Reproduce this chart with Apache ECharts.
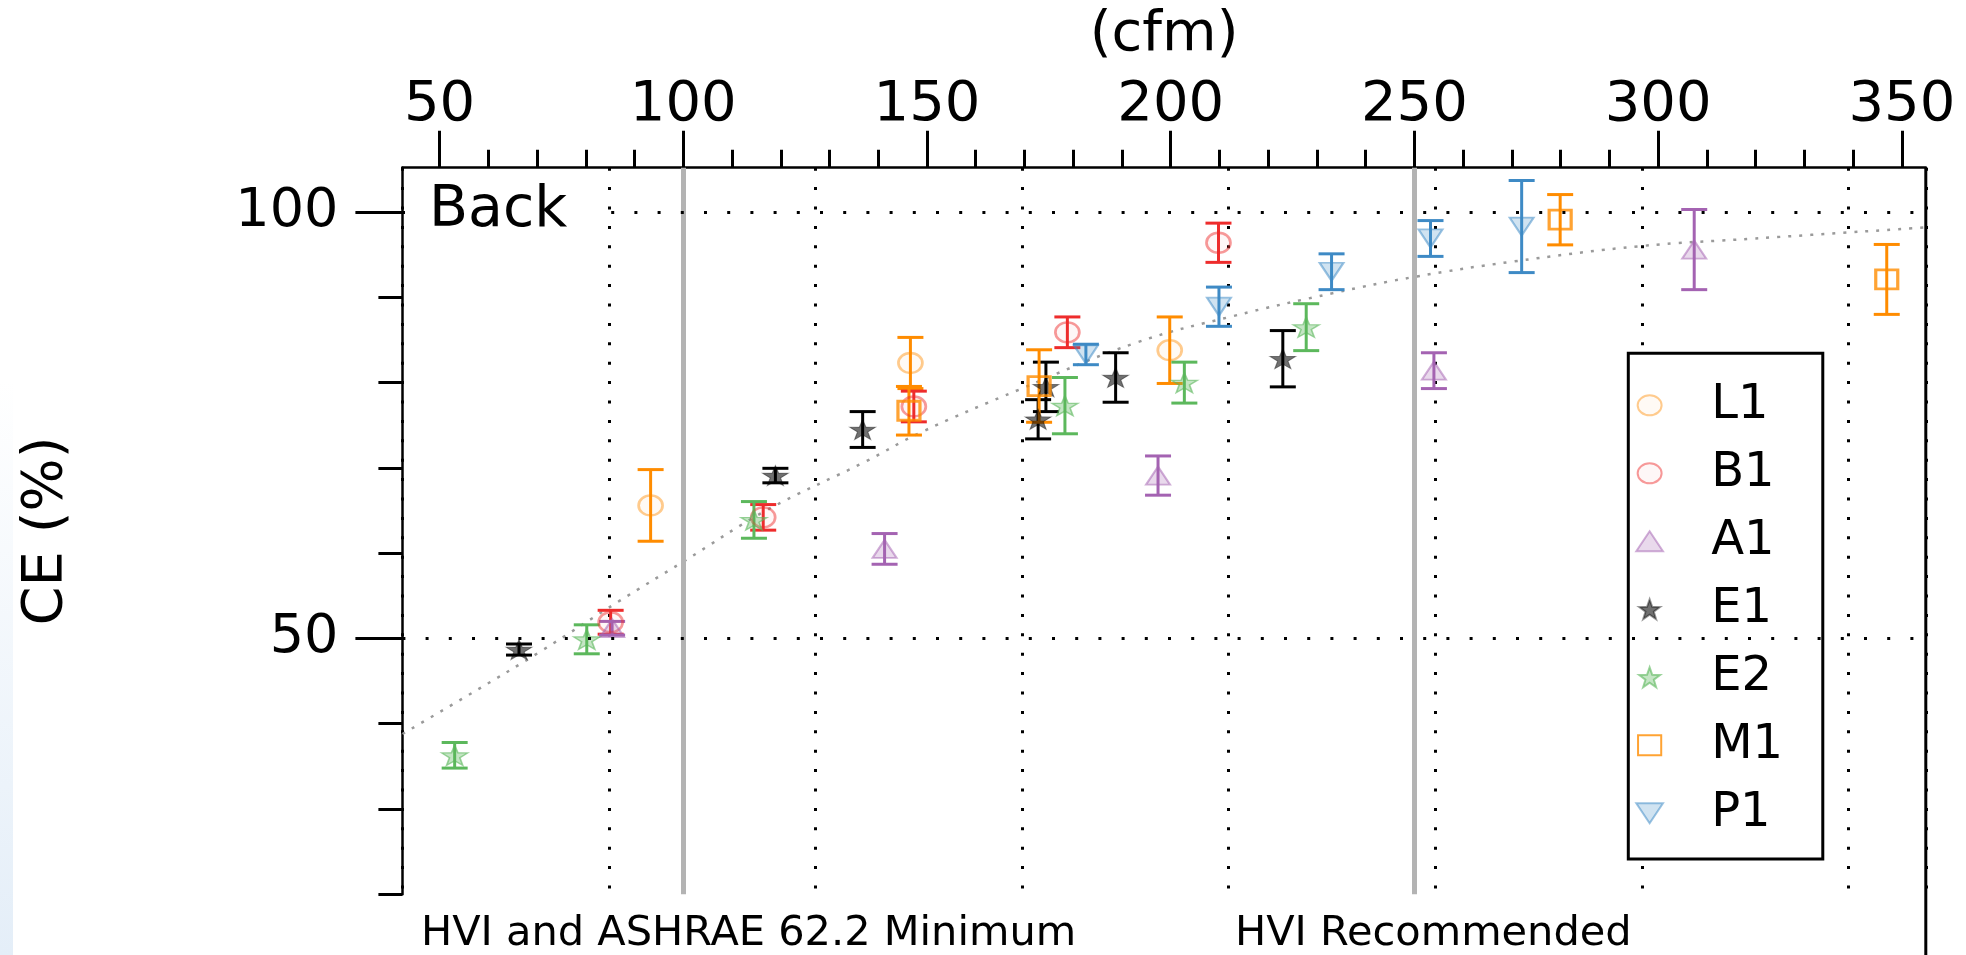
<!DOCTYPE html>
<html>
<head>
<meta charset="utf-8">
<script src="https://cdn.jsdelivr.net/npm/echarts@6/dist/echarts.min.js"></script>
<style>
html, body { margin: 0; padding: 0; background: #fff; }
#chart { width: 1966px; height: 955px; }
</style>
</head>
<body>
<div id="chart"></div>
<script>
// each point: [flow (cfm), CE (%), +/- error]
var L1 = [[93.3, 65.6, 4.2], [146.6, 82.3, 3.0], [199.8, 83.8, 3.9]];
var B1 = [[85.1, 51.9, 1.4], [116.4, 64.2, 1.5], [147.3, 77.2, 1.8], [178.8, 85.9, 1.8], [209.8, 96.4, 2.3]];
var A1 = [[85.4, 51.2, 0.8], [141.3, 60.5, 1.8], [197.4, 69.1, 2.3], [254.0, 81.4, 2.1], [307.4, 95.6, 4.7]];
var E1 = [[66.3, 48.7, 0.65], [118.9, 69.1, 0.85], [136.8, 74.5, 2.1], [172.8, 75.7, 2.3], [174.4, 79.5, 2.9], [188.7, 80.6, 2.9], [223.0, 82.8, 3.3]];
var E2 = [[53.1, 36.3, 1.5], [80.2, 49.9, 1.7], [114.5, 63.9, 2.15], [178.3, 77.3, 3.3], [202.8, 80.0, 2.4], [227.8, 86.5, 2.75]];
var M1 = [[146.3, 76.7, 2.85], [173.0, 79.6, 4.25], [279.9, 99.1, 2.95], [346.9, 92.1, 4.1]];
var P1 = [[182.6, 83.3, 1.2], [209.9, 88.9, 2.3], [233.0, 93.0, 2.1], [253.3, 96.9, 2.1], [272.0, 98.3, 5.4]];

// dotted fit curve
var fitCurve = [[42.4, 38.8], [57.5, 43.9], [70.5, 48.4], [86.9, 54.4], [100, 59.0], [117, 65.0], [137.6, 70.8],
  [148.5, 74.1], [169, 79.2], [193, 84.7], [212.8, 87.8], [233.4, 90.5], [250, 92.4], [270.3, 94.2],
  [296.3, 96.0], [320, 96.9], [355, 98.2]];

var cfmTicks = [50, 100, 150, 200, 250, 300, 350];
var cfmMinorTicks = [50, 60, 70, 80, 90, 100, 110, 120, 130, 140, 150, 160, 170, 180, 190, 200, 210, 220, 230, 240,
  250, 260, 270, 280, 290, 300, 310, 320, 330, 340, 350];
var ceLabels = [50, 100];
var ceTicks = [20, 30, 40, 50, 60, 70, 80, 90, 100];
var hviLines = [100, 250];   // HVI/ASHRAE minimum and HVI recommended (cfm)

// bottom (hidden) axis in L/s gives the dotted vertical grid
var LS_MIN = 20, LS_MAX = 167.5, LS_STEP = 20;
var CFM_PER_LS = 2.11888;

var FONT = 'DejaVu Sans';
var chart = echarts.init(document.getElementById('chart'));

var star = 'path://M10,0L12.35,6.76L19.51,6.91L13.8,11.24L15.88,18.09L10,14L4.12,18.09L6.2,11.24L0.49,6.91L7.65,6.76Z';
var ring = 'path://M0,10A12,10 0 1,1 24,10A12,10 0 1,1 0,10Z';
var triUp = 'path://M12,0L24,18L0,18Z';
var triDown = 'path://M0,0L24,0L12,18Z';
var square = 'path://M0,0L22,0L22,19L0,19Z';

var groups = [
  {name: 'L1', data: L1, bar: '#ff8c00', symbol: ring, size: [24, 20],
    style: {color: 'rgba(255,140,0,0.05)', borderColor: 'rgba(255,140,0,0.55)', borderWidth: 2.5}},
  {name: 'B1', data: B1, bar: '#ee2c2c', symbol: ring, size: [24, 20],
    style: {color: 'rgba(238,44,44,0.05)', borderColor: 'rgba(238,44,44,0.6)', borderWidth: 2.5}},
  {name: 'A1', data: A1, bar: '#a463b2', symbol: triUp, size: [24, 18],
    style: {color: 'rgba(164,99,178,0.3)', borderColor: 'rgba(164,99,178,0.65)', borderWidth: 2}},
  {name: 'E1', data: E1, bar: '#000000', symbol: star, size: [26, 20],
    style: {color: 'rgba(0,0,0,0.7)', borderColor: 'rgba(0,0,0,0.5)', borderWidth: 1}},
  {name: 'E2', data: E2, bar: '#5cb85c', symbol: star, size: [26, 20],
    style: {color: 'rgba(92,184,92,0.45)', borderColor: 'rgba(92,184,92,0.75)', borderWidth: 1.5}},
  {name: 'M1', data: M1, bar: '#ff8c00', symbol: square, size: [22, 19],
    style: {color: 'rgba(255,140,0,0)', borderColor: '#ff8c00', borderWidth: 3}},
  {name: 'P1', data: P1, bar: '#3e8ac5', symbol: triDown, size: [24, 18],
    style: {color: 'rgba(62,138,197,0.3)', borderColor: 'rgba(62,138,197,0.65)', borderWidth: 2}}
];

function errorBar(color) {
  return function (params, api) {
    var x = api.value(0), y = api.value(1), e = api.value(2);
    var hi = api.coord([x, y + e]);
    var lo = api.coord([x, y - e]);
    var hw = 13;
    var st = {stroke: color, lineWidth: 3};
    return {
      type: 'group',
      children: [
        {type: 'line', shape: {x1: hi[0], y1: hi[1], x2: lo[0], y2: lo[1]}, style: st},
        {type: 'line', shape: {x1: hi[0] - hw, y1: hi[1], x2: hi[0] + hw, y2: hi[1]}, style: st},
        {type: 'line', shape: {x1: lo[0] - hw, y1: lo[1], x2: lo[0] + hw, y2: lo[1]}, style: st}
      ]
    };
  };
}

var refLines = hviLines.map(function (v) {
  return {xAxis: v, lineStyle: {color: '#b3b3b3', width: 5, type: 'solid'}};
}).concat(ceLabels.map(function (v) {
  return {yAxis: v, lineStyle: {color: '#000', width: 3, type: [3, 20.2]}};
}));

var series = [{
  type: 'line',
  name: 'fit',
  data: fitCurve,
  smooth: 0.4,
  symbol: 'none',
  silent: true,
  z: 2,
  lineStyle: {color: '#9a9a9a', width: 2.5, type: [3, 8]},
  markLine: {
    silent: true,
    symbol: 'none',
    label: {show: false},
    data: refLines
  }
}];
groups.forEach(function (g) {
  series.push({
    type: 'custom',
    name: g.name + ' err',
    data: g.data,
    encode: {x: 0, y: 1},
    renderItem: errorBar(g.bar),
    silent: true,
    z: 3
  });
});
groups.forEach(function (g) {
  series.push({
    type: 'scatter',
    name: g.name,
    data: g.data,
    symbol: g.symbol,
    symbolSize: g.size,
    itemStyle: g.style,
    silent: true,
    z: 4
  });
});

var tickStyle = {color: '#000', width: 3};
var labelStyle = {color: '#000', fontFamily: FONT};

chart.setOption({
  animation: false,
  backgroundColor: '#fff',
  grid: {left: 402.4, right: 40.2, top: 167.7, bottom: 60.7, containLabel: false, outerBoundsMode: 'none'},
  xAxis: [{
    type: 'value', position: 'top',
    min: LS_MIN * CFM_PER_LS, max: LS_MAX * CFM_PER_LS,
    axisLine: {show: true, onZero: false, lineStyle: {color: '#000', width: 2.5}},
    axisTick: {show: true, inside: false, length: 37, lineStyle: tickStyle, customValues: cfmTicks},
    axisLabel: Object.assign({show: true, margin: 34, fontSize: 56, customValues: cfmTicks}, labelStyle),
    splitLine: {show: false},
    name: '(cfm)', nameLocation: 'middle', nameGap: 104,
    nameTextStyle: Object.assign({fontSize: 56}, labelStyle)
  }, {
    type: 'value', position: 'top',
    min: LS_MIN * CFM_PER_LS, max: LS_MAX * CFM_PER_LS,
    axisLine: {show: false},
    axisTick: {show: true, inside: false, length: 18, lineStyle: tickStyle, customValues: cfmMinorTicks},
    axisLabel: {show: false},
    splitLine: {show: false}
  }, {
    type: 'value', position: 'bottom',
    min: LS_MIN, max: LS_MAX, interval: LS_STEP,
    axisLine: {show: false},
    axisTick: {show: false},
    axisLabel: {show: false},
    splitLine: {show: true, lineStyle: {color: '#000', width: 3, type: [3, 16.4]}}
  }],
  yAxis: [{
    type: 'value', position: 'left',
    min: 20, max: 105.2,
    axisLine: {show: true, onZero: false, lineStyle: {color: '#000', width: 2.5}},
    axisTick: {show: true, inside: false, length: 47, lineStyle: tickStyle, customValues: ceLabels},
    axisLabel: Object.assign({show: true, margin: 64, fontSize: 54, customValues: ceLabels}, labelStyle),
    splitLine: {show: false},
    name: 'CE (%)', nameLocation: 'middle', nameGap: 328,
    nameTextStyle: Object.assign({fontSize: 56}, labelStyle)
  }, {
    type: 'value', position: 'left',
    min: 20, max: 105.2,
    axisLine: {show: false},
    axisTick: {show: true, inside: false, length: 24, lineStyle: tickStyle, customValues: ceTicks},
    axisLabel: {show: false},
    splitLine: {show: false}
  }],
  legend: {
    orient: 'vertical',
    left: 1628.3, top: 353.3,
    padding: [28, 39.7, 21.6, 7],
    itemGap: 20, itemWidth: 113, itemHeight: 20,
    borderColor: '#000', borderWidth: 3,
    backgroundColor: '#fff',
    selectedMode: false,
    textStyle: {fontSize: 48, color: '#000', fontFamily: FONT},
    data: groups.map(function (g) { return g.name; })
  },
  graphic: [
    {type: 'rect', left: 0, top: 380, silent: true, shape: {width: 13, height: 575},
      style: {fill: new echarts.graphic.LinearGradient(0, 0, 0, 1, [
        {offset: 0, color: 'rgba(228,238,248,0)'}, {offset: 1, color: 'rgba(228,238,248,1)'}])}},
    {type: 'rect', left: 405, top: 171, z: 10, silent: true, shape: {width: 195, height: 78}, style: {fill: '#fff'}},
    {type: 'text', left: 429, top: 183, z: 11, silent: true,
      style: {text: 'Back', fontSize: 57, fontFamily: FONT, fill: '#000'}},
    {type: 'text', left: 421, top: 913, silent: true,
      style: {text: 'HVI and ASHRAE 62.2 Minimum', fontSize: 41.5, fontFamily: FONT, fill: '#000'}},
    {type: 'text', left: 1235, top: 913, silent: true,
      style: {text: 'HVI Recommended', fontSize: 41.5, fontFamily: FONT, fill: '#000'}},
    {type: 'line', silent: true, z: 10,
      shape: {x1: 1925.8, y1: 167.7, x2: 1925.8, y2: 955}, style: {stroke: '#000', lineWidth: 3}}
  ],
  series: series
});
</script>
</body>
</html>
